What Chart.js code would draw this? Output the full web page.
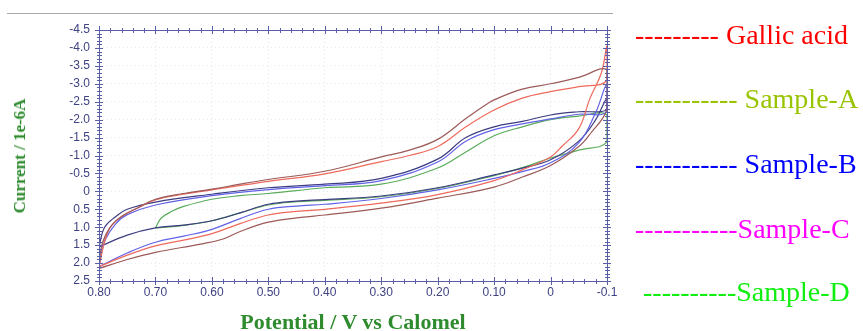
<!DOCTYPE html>
<html>
<head>
<meta charset="utf-8">
<script src="https://cdn.jsdelivr.net/npm/chart.js@4"></script>
<style>
  body { margin: 0; background: #fff; }
  #wrap { position: relative; width: 863px; height: 331px; overflow: hidden; }
  #cv { position: absolute; left: 0; top: 0; }
  .rule { position: absolute; left: 7px; top: 13px; width: 606px; height: 1px; background: #a8a8a8; }
  .ytitle { position: absolute; left: 20px; top: 156px; transform: translate(-50%, -50%) rotate(-90deg);
            font: bold 17px "Liberation Serif", serif; color: #2e8b2e; white-space: nowrap; }
  .xtitle { position: absolute; left: 353px; top: 311px; transform: translateX(-50%);
            font: bold 22px "Liberation Serif", serif; line-height: 22px; color: #2e8b2e; white-space: nowrap; }
  .leg { position: absolute; left: 635px; font: 28px "Liberation Serif", serif; line-height: 28px; white-space: pre; }
</style>
</head>
<body>
<div id="wrap">
  <canvas id="cv" width="863" height="331"></canvas>
  <div class="rule"></div>
  <div class="ytitle">Current / 1e-6A</div>
  <div class="xtitle">Potential / V vs Calomel</div>
  <div class="leg" style="top:21px;color:#ff0000">--------- Gallic acid</div>
  <div class="leg" style="top:85px;color:#99c400">----------- Sample-A</div>
  <div class="leg" style="top:150px;color:#0000ff">----------- Sample-B</div>
  <div class="leg" style="top:215px;color:#ff00ff">-----------Sample-C</div>
  <div class="leg" style="top:278px;left:643px;color:#11ee11">----------Sample-D</div>
</div>
<script>
// tick labels
var xTickValues = [0.8, 0.7, 0.6, 0.5, 0.4, 0.3, 0.2, 0.1, 0, -0.1];
var xTickLabels = ['0.80', '0.70', '0.60', '0.50', '0.40', '0.30', '0.20', '0.10', '0', '-0.1'];
var yTickValues = [-4.5, -4, -3.5, -3, -2.5, -2, -1.5, -1, -0.5, 0, 0.5, 1, 1.5, 2, 2.5];
var yTickLabels = ['-4.5', '-4.0', '-3.5', '-3.0', '-2.5', '-2.0', '-1.5', '-1.0', '-0.5', '0', '0.5', '1.0', '1.5', '2.0', '2.5'];

// each loop: forward sweep 0.80 -> -0.1, then back to 0.80 (potential V, current 1e-6A)
var gallicE = [0.80, 0.795, 0.78, 0.76, 0.73, 0.70, 0.65, 0.60, 0.55, 0.50, 0.40, 0.30, 0.25, 0.20, 0.15, 0.12, 0.10, 0.05, 0.0, -0.05, -0.1,
               -0.1, -0.07, -0.05, 0.0, 0.05, 0.10, 0.20, 0.30, 0.40, 0.45, 0.50, 0.55, 0.58, 0.62, 0.70, 0.75, 0.80];
var gallicI = [2.15, 1.5, 1.0, 0.7, 0.45, 0.22, 0.06, -0.06, -0.2, -0.33, -0.56, -0.96, -1.15, -1.45, -2.03, -2.36, -2.55, -2.85, -3.0, -3.18, -3.38,
               -2.3, -1.6, -1.25, -0.72, -0.4, -0.12, 0.19, 0.47, 0.66, 0.74, 0.86, 1.12, 1.33, 1.47, 1.7, 1.9, 2.15];

var sampleAE = [0.80, 0.79, 0.78, 0.76, 0.73, 0.70, 0.65, 0.60, 0.50, 0.40, 0.30, 0.25, 0.20, 0.15, 0.10, 0.05, 0.0, -0.05, -0.1,
                -0.1, -0.09, -0.07, -0.05, -0.02, 0.0, 0.05, 0.10, 0.20, 0.30, 0.40, 0.45, 0.50, 0.55, 0.60, 0.65, 0.70, 0.75, 0.80];
var sampleAI = [2.1, 1.4, 1.0, 0.7, 0.45, 0.24, 0.08, -0.04, -0.28, -0.49, -0.83, -1.0, -1.25, -1.8, -2.27, -2.6, -2.78, -2.92, -3.1,
                -4.05, -3.3, -2.6, -1.75, -1.25, -0.96, -0.6, -0.3, 0.09, 0.33, 0.5, 0.56, 0.66, 0.9, 1.18, 1.36, 1.52, 1.78, 2.1];

var sampleBE = [0.80, 0.79, 0.77, 0.75, 0.70, 0.60, 0.50, 0.40, 0.30, 0.20, 0.15, 0.10, 0.05, 0.0, -0.05, -0.1,
                -0.1, -0.08, -0.05, 0.0, 0.05, 0.10, 0.20, 0.30, 0.40, 0.45, 0.50, 0.55, 0.60, 0.65, 0.70, 0.75, 0.80];
var sampleBI = [2.1, 1.4, 0.9, 0.65, 0.38, 0.12, -0.05, -0.16, -0.3, -0.82, -1.4, -1.72, -1.88, -2.02, -2.15, -2.22,
                -3.0, -2.2, -1.35, -0.8, -0.55, -0.36, -0.04, 0.2, 0.36, 0.41, 0.5, 0.76, 1.06, 1.25, 1.42, 1.72, 2.1];

var sampleCE = [0.80, 0.79, 0.77, 0.75, 0.70, 0.60, 0.50, 0.40, 0.30, 0.20, 0.15, 0.10, 0.05, 0.0, -0.05, -0.1,
                -0.1, -0.08, -0.05, 0.0, 0.05, 0.10, 0.20, 0.30, 0.40, 0.45, 0.50, 0.55, 0.60, 0.65, 0.70, 0.75, 0.80];
var sampleCI = [1.55, 1.0, 0.7, 0.5, 0.3, 0.08, -0.1, -0.2, -0.36, -0.9, -1.5, -1.8, -1.95, -2.13, -2.22, -2.27,
                -2.6, -2.0, -1.4, -0.88, -0.65, -0.46, -0.1, 0.13, 0.23, 0.27, 0.36, 0.6, 0.82, 0.94, 1.02, 1.22, 1.55];

var sampleDE = [0.70, 0.69, 0.67, 0.65, 0.60, 0.55, 0.50, 0.40, 0.30, 0.20, 0.15, 0.10, 0.05, 0.0, -0.05, -0.1,
                -0.1, -0.05, 0.0, 0.05, 0.10, 0.20, 0.30, 0.40, 0.45, 0.50, 0.55, 0.60, 0.65, 0.70];
var sampleDI = [1.02, 0.75, 0.55, 0.42, 0.22, 0.12, 0.06, -0.1, -0.2, -0.65, -1.1, -1.55, -1.8, -2.0, -2.1, -2.13,
                -1.38, -1.15, -0.93, -0.66, -0.44, -0.08, 0.15, 0.25, 0.29, 0.38, 0.6, 0.82, 0.95, 1.02];

var axisColor = '#5a5ea6';

function pts(E, I) {
    return E.map(function (e, i) { return { x: e, y: I[i] }; });
}

function loop(label, E, I, color) {
    return {
        label: label,
        data: pts(E, I),
        showLine: true,
        borderColor: color,
        backgroundColor: color,
        borderWidth: 1.2,
        pointRadius: 0,
        tension: 0.4,
        fill: false
    };
}

// frame on four sides with minor tick marks
const framePlugin = {
    id: 'frame',
    afterDraw: function (chart) {
        const ctx = chart.ctx;
        const a = chart.chartArea;
        const xs = chart.scales.x, ys = chart.scales.y;
        ctx.save();
        ctx.strokeStyle = axisColor;
        ctx.lineWidth = 1;
        ctx.strokeRect(a.left + 0.5, a.top + 0.5, a.right - a.left, a.bottom - a.top);
        ctx.beginPath();
        var v, p;
        for (v = -0.1; v <= 0.801; v += 0.02) {
            p = Math.round(xs.getPixelForValue(v)) + 0.5;
            ctx.moveTo(p, a.top - 2); ctx.lineTo(p, a.top + 3);
            ctx.moveTo(p, a.bottom - 2); ctx.lineTo(p, a.bottom + 3);
        }
        for (v = -4.5; v <= 2.501; v += 0.1) {
            p = Math.round(ys.getPixelForValue(v)) + 0.5;
            ctx.moveTo(a.left - 2, p); ctx.lineTo(a.left + 3, p);
            ctx.moveTo(a.right - 2, p); ctx.lineTo(a.right + 3, p);
        }
        ctx.stroke();
        ctx.beginPath();
        xTickValues.forEach(function (t) {
            p = Math.round(xs.getPixelForValue(t)) + 0.5;
            ctx.moveTo(p, a.top - 4); ctx.lineTo(p, a.top + 4);
            ctx.moveTo(p, a.bottom - 4); ctx.lineTo(p, a.bottom + 4);
        });
        yTickValues.forEach(function (t) {
            p = Math.round(ys.getPixelForValue(t)) + 0.5;
            ctx.moveTo(a.left - 4, p); ctx.lineTo(a.left + 4, p);
            ctx.moveTo(a.right - 4, p); ctx.lineTo(a.right + 4, p);
        });
        ctx.stroke();
        ctx.restore();
    }
};

new Chart(document.getElementById('cv'), {
    type: 'scatter',
    data: {
        datasets: [
            loop('Gallic acid', gallicE, gallicI, '#9c5a58'),
            loop('Sample-A', sampleAE, sampleAI, '#ee6a5c'),
            loop('Sample-B', sampleBE, sampleBI, '#6262e6'),
            loop('Sample-C', sampleCE, sampleCI, '#3c3c82'),
            loop('Sample-D', sampleDE, sampleDI, '#5aac5a')
        ]
    },
    options: {
        responsive: false,
        animation: false,
        devicePixelRatio: 1,
        layout: { padding: { left: 54, right: 256, top: 30, bottom: 20 } },
        plugins: { legend: { display: false }, tooltip: { enabled: false } },
        scales: {
            x: {
                type: 'linear',
                reverse: true,
                min: -0.1,
                max: 0.8,
                afterBuildTicks: function (s) { s.ticks = xTickValues.map(function (v) { return { value: v }; }); },
                afterFit: function (s) { s.height = 30; },
                ticks: {
                    color: '#3e4280',
                    font: { family: 'Liberation Sans', size: 12 },
                    padding: 4,
                    maxRotation: 0,
                    autoSkip: false,
                    callback: function (v, i) { return xTickLabels[i]; }
                },
                grid: { color: 'rgba(175,178,210,0.35)', drawTicks: false },
                border: { display: false, dash: [1, 3] }
            },
            y: {
                type: 'linear',
                reverse: true,
                min: -4.5,
                max: 2.5,
                afterBuildTicks: function (s) { s.ticks = yTickValues.map(function (v) { return { value: v }; }); },
                afterFit: function (s) { s.width = 45; },
                ticks: {
                    color: '#3e4280',
                    font: { family: 'Liberation Sans', size: 12 },
                    padding: 9,
                    autoSkip: false,
                    callback: function (v, i) { return yTickLabels[i]; }
                },
                grid: { color: 'rgba(175,178,210,0.28)', drawTicks: false },
                border: { display: false, dash: [1, 3] }
            }
        }
    },
    plugins: [framePlugin]
});
</script>
</body>
</html>
